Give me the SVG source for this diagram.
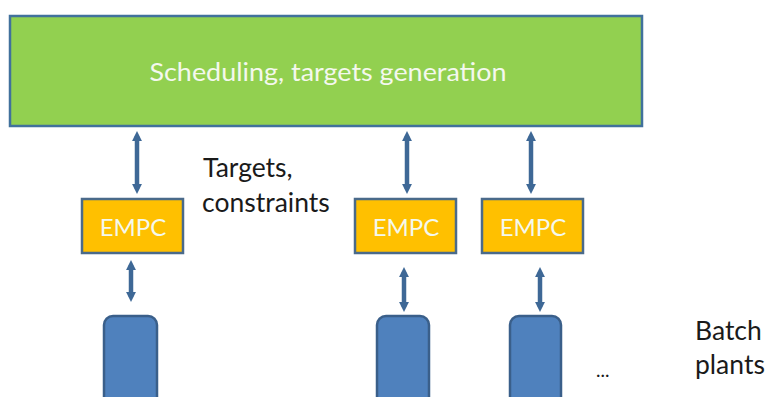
<svg xmlns="http://www.w3.org/2000/svg" width="767" height="397" viewBox="0 0 767 397">
<style>
.lbl{font-family:Lato,"Open Sans","Liberation Sans",sans-serif;}
.wt{fill:#f4f8ee;}
.dk{fill:#1a1a1a;}
.empc{fill:#FFC000;stroke:#4a6a8a;stroke-width:2.5;}
.plant{fill:#4F81BD;stroke:#3a5f8a;stroke-width:2.5;}
.conn{stroke:#3E6896;stroke-width:4.5;fill:none;marker-start:url(#ah);marker-end:url(#ah);}
</style>
<defs>
<marker id="ah" viewBox="0 0 10 10" refX="5" refY="5" markerWidth="2.2" markerHeight="3" orient="auto-start-reverse" markerUnits="strokeWidth">
<path d="M0,0 L10,5 L0,10 z" fill="#3E6896"/>
</marker>
</defs>
<rect width="767" height="397" fill="#ffffff"/>
<g id="scheduler">
<rect x="10" y="16" width="632" height="110" fill="#92D050" stroke="#41719C" stroke-width="2.5"/>
<text class="lbl wt" x="328" y="81" font-size="25.5" text-anchor="middle" textLength="357" lengthAdjust="spacingAndGlyphs">Scheduling, targets generation</text>
</g>
<g id="empc1">
<rect class="empc" x="82" y="199" width="101" height="54"/>
<text class="lbl wt" x="133" y="236" font-size="24" text-anchor="middle">EMPC</text>
</g>
<g id="empc2">
<rect class="empc" x="355" y="199" width="101" height="54"/>
<text class="lbl wt" x="406" y="236" font-size="24" text-anchor="middle">EMPC</text>
</g>
<g id="empc3">
<rect class="empc" x="482" y="199" width="101" height="54"/>
<text class="lbl wt" x="533" y="236" font-size="24" text-anchor="middle">EMPC</text>
</g>
<g id="plant1"><rect class="plant" x="104" y="316" width="53" height="100" rx="9"/></g>
<g id="plant2"><rect class="plant" x="377" y="316" width="52" height="100" rx="9"/></g>
<g id="plant3"><rect class="plant" x="510" y="316" width="51" height="100" rx="9"/></g>
<g id="labels">
<text class="lbl dk" x="203" y="177" font-size="26.5">Targets,</text>
<text class="lbl dk" x="202" y="212" font-size="26.5">constraints</text>
<text class="lbl dk" x="695" y="340" font-size="26.5">Batch</text>
<text class="lbl dk" x="695" y="374" font-size="26.5">plants</text>
<text class="lbl dk" x="596" y="377" font-size="19">...</text>
</g>
<g id="connectors">
<line class="conn" x1="137" y1="136" x2="137" y2="189"/>
<line class="conn" x1="407" y1="136" x2="407" y2="189"/>
<line class="conn" x1="531" y1="136" x2="531" y2="189"/>
<line class="conn" x1="131" y1="265" x2="131" y2="297"/>
<line class="conn" x1="404" y1="272" x2="404" y2="307"/>
<line class="conn" x1="540" y1="272" x2="540" y2="307"/>
</g>
</svg>
